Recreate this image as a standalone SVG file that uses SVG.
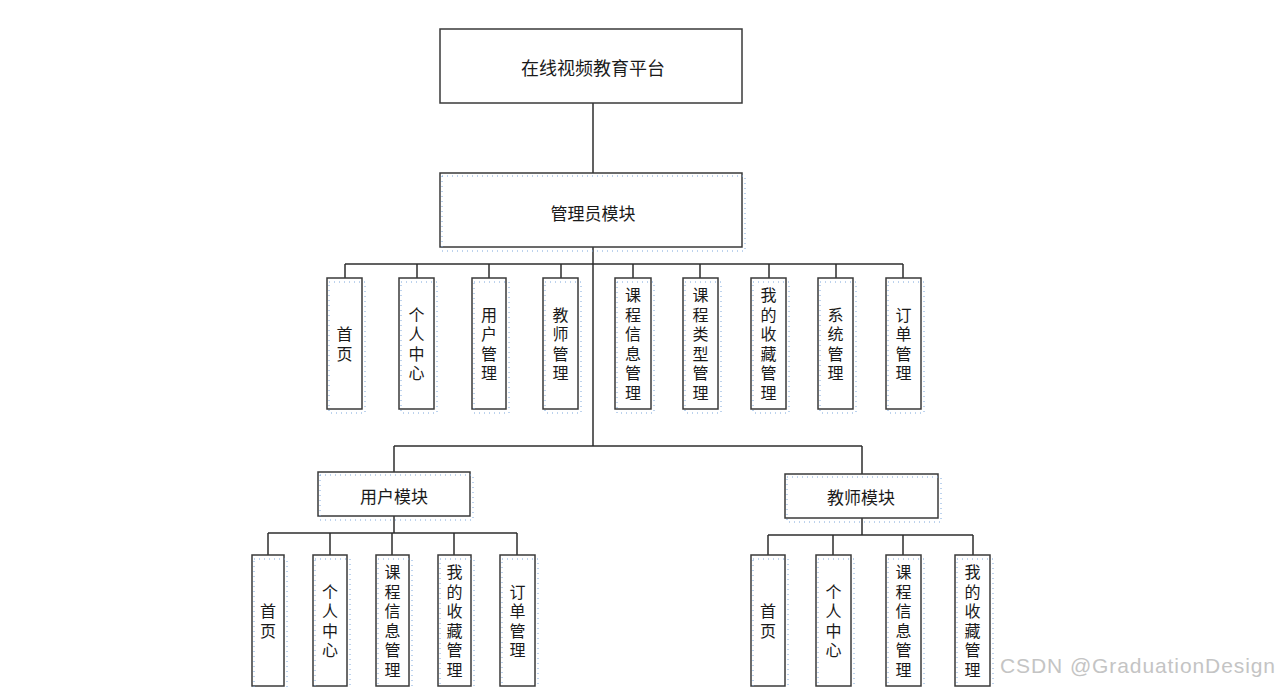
<svg xmlns="http://www.w3.org/2000/svg" width="1280" height="687" viewBox="0 0 1280 687">
<style>
.box{fill:#fff;stroke:#3a3a3a;stroke-width:1.5}
.dot{fill:none;stroke:#7aa6dc;stroke-width:1;stroke-dasharray:1 4}
.ln{fill:none;stroke:#2e2e2e;stroke-width:1.5}
.t{font-family:"Noto Sans CJK SC","Noto Sans",sans-serif;fill:#1a1a1a;text-anchor:middle;dominant-baseline:central}
.v{font-family:"Noto Sans CJK SC","Noto Sans",sans-serif;fill:#1a1a1a;font-size:16px;writing-mode:vertical-rl;text-anchor:middle;letter-spacing:3.5px}
.m{font-size:17px}
.wm{font-family:"Liberation Sans","DejaVu Sans",sans-serif;font-size:21px;fill:#c4c4c4}
</style>
<rect width="1280" height="687" fill="#fff"/>
<g id="connectors">
<path class="ln" d="M593 103V173M593 247V446M345 264H903M345 264V278M417 264V278M489 264V278M561 264V278M633 264V278M700 264V278M769 264V278M836 264V278M903 264V278"/>
<path class="ln" d="M394 446H862M394 446V472M862 446V474"/>
<path class="ln" d="M394 516V533M268 533H517M268 533V555M330 533V555M392 533V555M454 533V555M517 533V555"/>
<path class="ln" d="M862 518V535M768 535H973M768 535V555M833 535V555M903 535V555M973 535V555"/>
</g>
<g id="root"><rect class="box" x="440" y="29" width="302" height="74"/><text class="t" x="593" y="67" font-size="18">在线视频教育平台</text></g>
<g id="admin"><rect class="box" x="440" y="173" width="302" height="74"/><rect class="dot" x="442" y="176" width="303" height="75"/><text class="t m" x="593" y="212">管理员模块</text></g>
<g id="a1"><rect class="box" x="327" y="278" width="35" height="131"/><rect class="dot" x="329" y="282" width="36" height="131"/><text class="v" x="344.5" y="345.5">首页</text></g>
<g id="a2"><rect class="box" x="399" y="278" width="35" height="131"/><rect class="dot" x="401" y="282" width="36" height="131"/><text class="v" x="416.5" y="345.5">个人中心</text></g>
<g id="a3"><rect class="box" x="472" y="278" width="34" height="131"/><rect class="dot" x="474" y="282" width="35" height="131"/><text class="v" x="489" y="345.5">用户管理</text></g>
<g id="a4"><rect class="box" x="543" y="278" width="35" height="131"/><rect class="dot" x="545" y="282" width="36" height="131"/><text class="v" x="560.5" y="345.5">教师管理</text></g>
<g id="a5"><rect class="box" x="615" y="278" width="36" height="131"/><rect class="dot" x="617" y="282" width="37" height="131"/><text class="v" x="633" y="345.5">课程信息管理</text></g>
<g id="a6"><rect class="box" x="683" y="278" width="35" height="131"/><rect class="dot" x="685" y="282" width="36" height="131"/><text class="v" x="700.5" y="345.5">课程类型管理</text></g>
<g id="a7"><rect class="box" x="751" y="278" width="35" height="131"/><rect class="dot" x="753" y="282" width="36" height="131"/><text class="v" x="768.5" y="345.5">我的收藏管理</text></g>
<g id="a8"><rect class="box" x="818" y="278" width="35" height="131"/><rect class="dot" x="820" y="282" width="36" height="131"/><text class="v" x="835.5" y="345.5">系统管理</text></g>
<g id="a9"><rect class="box" x="886" y="278" width="35" height="131"/><rect class="dot" x="888" y="282" width="36" height="131"/><text class="v" x="903.5" y="345.5">订单管理</text></g>
<g id="user"><rect class="box" x="318" y="472" width="152" height="44"/><rect class="dot" x="320" y="475" width="153" height="45"/><text class="t m" x="394" y="495">用户模块</text></g>
<g id="teacher"><rect class="box" x="785" y="474" width="153" height="44"/><rect class="dot" x="787" y="477" width="154" height="45"/><text class="t m" x="861" y="496">教师模块</text></g>
<g id="u1"><rect class="box" x="252" y="555" width="32" height="131"/><rect class="dot" x="254" y="559" width="33" height="131"/><text class="v" x="268" y="622.5">首页</text></g>
<g id="u2"><rect class="box" x="313" y="555" width="34" height="131"/><rect class="dot" x="315" y="559" width="35" height="131"/><text class="v" x="330" y="622.5">个人中心</text></g>
<g id="u3"><rect class="box" x="376" y="555" width="33" height="131"/><rect class="dot" x="378" y="559" width="34" height="131"/><text class="v" x="392.5" y="622.5">课程信息管理</text></g>
<g id="u4"><rect class="box" x="438" y="555" width="33" height="131"/><rect class="dot" x="440" y="559" width="34" height="131"/><text class="v" x="454.5" y="622.5">我的收藏管理</text></g>
<g id="u5"><rect class="box" x="500" y="555" width="35" height="131"/><rect class="dot" x="502" y="559" width="36" height="131"/><text class="v" x="517.5" y="622.5">订单管理</text></g>
<g id="t1"><rect class="box" x="751" y="555" width="34" height="131"/><rect class="dot" x="753" y="559" width="35" height="131"/><text class="v" x="768" y="622.5">首页</text></g>
<g id="t2"><rect class="box" x="816" y="555" width="35" height="131"/><rect class="dot" x="818" y="559" width="36" height="131"/><text class="v" x="833.5" y="622.5">个人中心</text></g>
<g id="t3"><rect class="box" x="886" y="555" width="35" height="131"/><rect class="dot" x="888" y="559" width="36" height="131"/><text class="v" x="903.5" y="622.5">课程信息管理</text></g>
<g id="t4"><rect class="box" x="955" y="555" width="35" height="131"/><rect class="dot" x="957" y="559" width="36" height="131"/><text class="v" x="972.5" y="622.5">我的收藏管理</text></g>
<text class="wm" x="1000" y="673" textLength="275">CSDN @GraduationDesign</text>
</svg>
